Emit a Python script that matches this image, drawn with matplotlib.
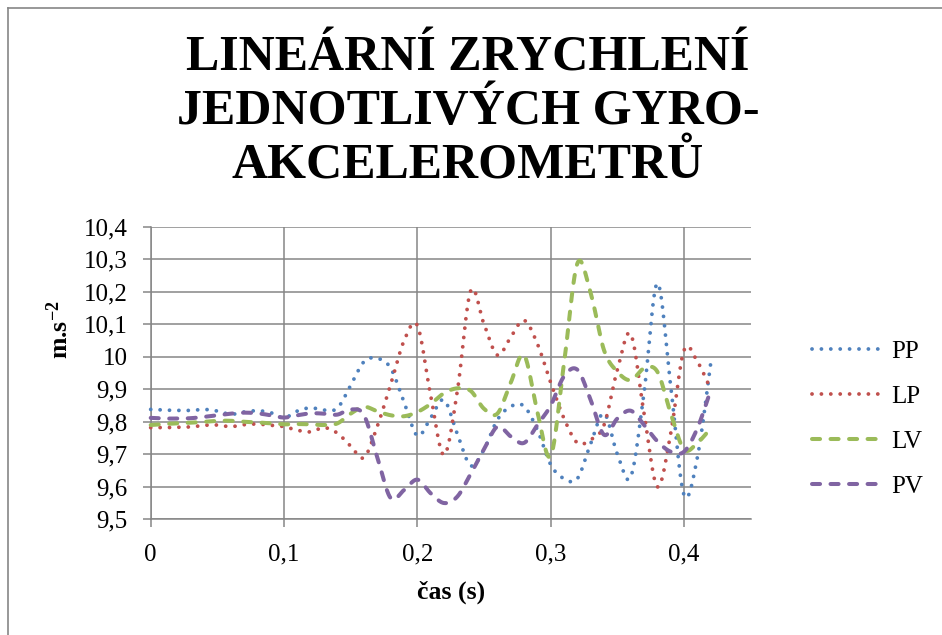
import numpy as np
import matplotlib
matplotlib.use("Agg")
import matplotlib.pyplot as plt
from matplotlib.lines import Line2D

plt.rcParams['font.family'] = ['Liberation Serif', 'DejaVu Serif']
plt.rcParams['mathtext.default'] = 'regular'

# ---------------- data ----------------
time_s = [0.00, 0.01, 0.02, 0.03, 0.04, 0.05, 0.06, 0.07, 0.08, 0.09,
          0.10, 0.11, 0.12, 0.13, 0.14, 0.15, 0.16, 0.17, 0.18, 0.19,
          0.20, 0.21, 0.22, 0.23, 0.24, 0.25, 0.26, 0.27, 0.28, 0.29,
          0.30, 0.31, 0.32, 0.33, 0.34, 0.35, 0.36, 0.37, 0.38, 0.39,
          0.40, 0.41, 0.42]

pp = [9.838, 9.836, 9.835, 9.835, 9.838, 9.833, 9.823, 9.830, 9.834, 9.828,
      9.812, 9.833, 9.843, 9.836, 9.842, 9.912, 9.985, 9.995, 9.965, 9.860,
      9.757, 9.812, 9.867, 9.762, 9.665, 9.715, 9.806, 9.847, 9.848, 9.775,
      9.668, 9.625, 9.625, 9.733, 9.826, 9.700, 9.630, 9.890, 10.226, 9.910,
      9.575, 9.690, 9.980]

lp = [9.782, 9.782, 9.783, 9.784, 9.789, 9.790, 9.785, 9.791, 9.793, 9.789,
      9.785, 9.774, 9.769, 9.782, 9.765, 9.725, 9.690, 9.787, 9.915, 10.049,
      10.096, 9.880, 9.698, 9.895, 10.203, 10.100, 10.005, 10.060, 10.112, 10.040,
      9.920, 9.810, 9.735, 9.745, 9.790, 9.960, 10.070, 9.826, 9.600, 9.764,
      10.020, 9.985, 9.900]

lv = [9.790, 9.793, 9.795, 9.797, 9.800, 9.803, 9.803, 9.800, 9.798, 9.795,
      9.792, 9.793, 9.792, 9.790, 9.795, 9.825, 9.846, 9.832, 9.820, 9.817,
      9.830, 9.855, 9.888, 9.903, 9.895, 9.840, 9.825, 9.920, 10.005, 9.830,
      9.695, 9.980, 10.287, 10.195, 10.020, 9.954, 9.928, 9.964, 9.954, 9.826,
      9.715, 9.735, 9.780]

pv = [9.812, 9.810, 9.810, 9.811, 9.815, 9.820, 9.825, 9.828, 9.826, 9.820,
      9.813, 9.820, 9.826, 9.825, 9.822, 9.838, 9.820, 9.690, 9.565, 9.590,
      9.622, 9.580, 9.550, 9.570, 9.640, 9.715, 9.785, 9.755, 9.735, 9.790,
      9.850, 9.940, 9.960, 9.867, 9.760, 9.810, 9.834, 9.790, 9.740, 9.708,
      9.708, 9.780, 9.897]

series_names = ["PP", "LP", "LV", "PV"]
series_values = [pp, lp, lv, pv]

x_ticks = [0.0, 0.1, 0.2, 0.3, 0.4]
x_tick_labels = ["0", "0,1", "0,2", "0,3", "0,4"]
y_ticks = [9.5, 9.6, 9.7, 9.8, 9.9, 10.0, 10.1, 10.2, 10.3, 10.4]
y_tick_labels = ["9,5", "9,6", "9,7", "9,8", "9,9", "10", "10,1", "10,2", "10,3", "10,4"]

title_text = "LINEÁRNÍ ZRYCHLENÍ\nJEDNOTLIVÝCH GYRO-\nAKCELEROMETRŮ"
x_label = "čas (s)"
y_label = "m.s$^{-2}$"

# ---------------- styles ----------------
colors = ["#4F81BD", "#C0504D", "#9BBB59", "#8064A2"]
dot_style = (0, (0.01, 2.45))
dash_style = (0, (2.0, 2.6))
styles = [
    dict(lw=2.75, ls=dot_style),
    dict(lw=2.75, ls=dot_style),
    dict(lw=2.9, ls=dash_style),
    dict(lw=2.9, ls=dash_style),
]
grid_color = "#868686"


def smooth_curve(x, y, n=24):
    """Excel-like smoothed line (Catmull-Rom Bezier) through the data points."""
    P = np.column_stack([np.asarray(x, float), np.asarray(y, float)])
    Pe = np.vstack([P[0], P, P[-1]])
    t = np.linspace(0, 1, n, endpoint=False)[:, None]
    segs = []
    for i in range(len(P) - 1):
        p0, p1, p2, p3 = Pe[i], Pe[i + 1], Pe[i + 2], Pe[i + 3]
        b1 = p1 + (p2 - p0) / 6.0
        b2 = p2 - (p3 - p1) / 6.0
        seg = ((1 - t) ** 3) * p1 + 3 * ((1 - t) ** 2) * t * b1 \
            + 3 * (1 - t) * (t ** 2) * b2 + (t ** 3) * p2
        segs.append(seg)
    segs.append(P[-1:])
    S = np.vstack(segs)
    return S[:, 0], S[:, 1]


W, H = 942, 635
fig = plt.figure(figsize=(W / 100, H / 100), dpi=100)
fig.patch.set_facecolor("white")

ax = fig.add_axes([150.7 / W, 1 - 519.3 / H, 600.0 / W, (519.3 - 226.7) / H])
ax.set_xlim(0, 0.45)
ax.set_ylim(9.5, 10.4)

for name, vals, c, st in zip(series_names, series_values, colors, styles):
    sx, sy = smooth_curve(time_s, vals)
    ax.plot(sx, sy, color=c, lw=st["lw"], linestyle=st["ls"],
            dash_capstyle="round", solid_capstyle="round", label=name,
            clip_on=False, zorder=3)

ax.set_xticks(x_ticks)
ax.set_xticklabels(x_tick_labels)
ax.set_yticks(y_ticks)
ax.set_yticklabels(y_tick_labels)
ax.grid(True, color=grid_color, lw=1.1)
ax.set_axisbelow(True)
for s in ["top", "right"]:
    ax.spines[s].set_visible(False)
for s in ["left", "bottom"]:
    ax.spines[s].set_color(grid_color)
    ax.spines[s].set_linewidth(1.1)
ax.tick_params(axis="both", direction="out", length=5.5, width=1.1,
               color=grid_color, labelsize=18, labelcolor="black")
ax.tick_params(axis="y", pad=11)
ax.tick_params(axis="x", pad=12)

fig.text(451 / W, 1 - 592 / H, x_label, ha="center", va="center",
         fontsize=18.5, fontweight="bold")
fig.text(60 / W, 1 - 330 / H, y_label, ha="center", va="center",
         rotation=90, fontsize=18.5, fontweight="bold")

fig.text(468 / W, 1 - 112 / H, title_text, ha="center", va="center",
         fontsize=36, fontweight="bold", linespacing=1.22)

leg = ax.legend(loc="upper left", bbox_to_anchor=(812 / W, 1 - 340 / H),
                bbox_transform=fig.transFigure, frameon=False, fontsize=18,
                handlelength=2.7, handletextpad=0.45, labelspacing=0.9,
                borderpad=0, borderaxespad=0)

# outer chart border (top and left edges visible)
fig.add_artist(Line2D([8 / W, 8 / W], [0, 1 - 8 / H], transform=fig.transFigure,
                      color=grid_color, lw=1.2))
fig.add_artist(Line2D([8 / W, 1], [1 - 8 / H, 1 - 8 / H], transform=fig.transFigure,
                      color=grid_color, lw=1.2))

fig.savefig("out.png", dpi=100)
